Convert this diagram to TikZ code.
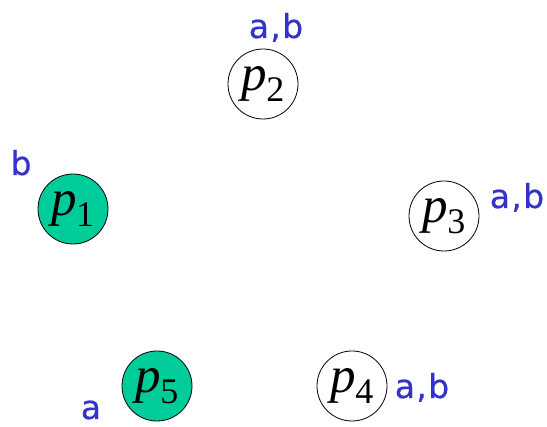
\documentclass[tikz,border=0pt]{standalone}
\usepackage{fontspec}
\newfontfamily\lblfont[LetterSpace=4,FakeBold=0.6]{DejaVu Sans}
\newfontfamily\procfont{Liberation Serif}
\newcommand{\pname}[1]{\textit{p}\kern-1pt\raisebox{-0.22em}{\fontsize{36}{38}\selectfont #1}}
\definecolor{procgreen}{RGB}{0,204,153}
\definecolor{lblblue}{RGB}{51,51,204}
\begin{document}
\begin{tikzpicture}[x=1pt, y=-1pt,
        proc/.style={circle, draw=black, line width=0.8pt, fill=white, minimum size=70pt, inner sep=0pt, font=\procfont\fontsize{51}{54}\selectfont},
        marked/.style={proc, fill=procgreen},
        lbl/.style={text=lblblue, inner sep=0pt, anchor=base, font=\lblfont\fontsize{33}{36}\selectfont}
    ]
        \useasboundingbox (0,0) rectangle (547,427);
        % processes
        \node[proc] (p2) at (263, 84) {\pname{2}};
        \node[marked] (p1) at (73, 209) {\pname{1}};
        \node[proc] (p3) at (444, 216) {\pname{3}};
        \node[proc] (p4) at (352, 386) {\pname{4}};
        \node[marked] (p5) at (157, 386) {\pname{5}};

        % labels (placed at their baselines)
        \node[lbl] (l2) at (276, 38) {a,b};
        \node[lbl] (l1) at (21, 175) {b};
        \node[lbl] (l3) at (517, 208) {a,b};
        \node[lbl] (l4) at (422, 398) {a,b};
        \node[lbl] (l5) at (91, 419) {a};
    \end{tikzpicture}
\end{document}
